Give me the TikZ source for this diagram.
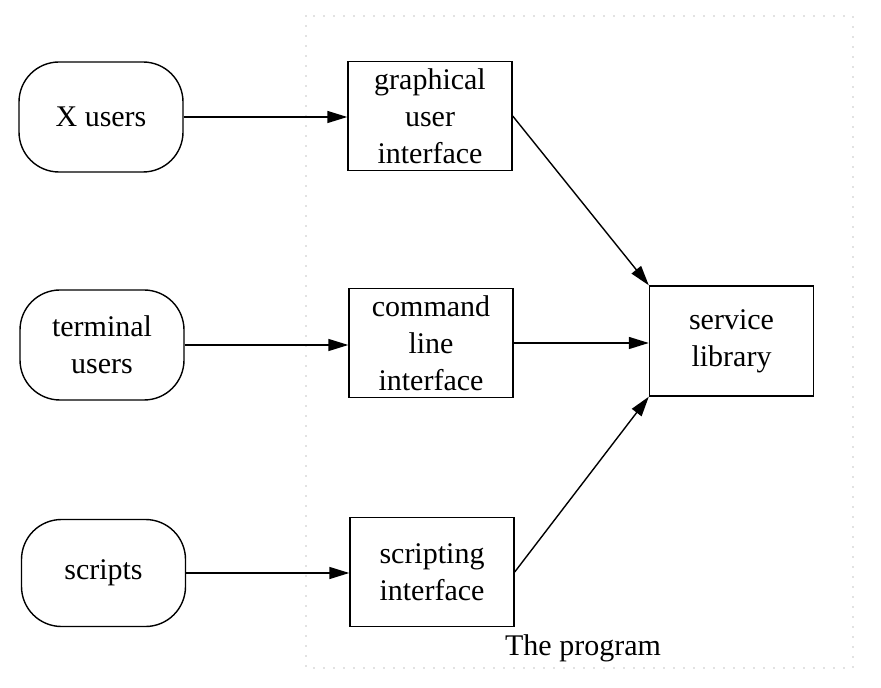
\documentclass[tikz,border=0pt]{standalone}
\usepackage{fontspec}
\setmainfont{Liberation Serif}
\usetikzlibrary{arrows.meta}
\begin{document}
\begin{tikzpicture}[x=0.5pt,y=-0.5pt,
  every node/.style={font=\fontsize{15pt}{18.5pt}\selectfont, align=center, inner sep=0pt},
  actor/.style={draw, line width=0.7pt, rounded corners=20pt, minimum width=82pt, minimum height=55pt},
  comp/.style={draw, line width=0.7pt, minimum width=82pt, minimum height=54.5pt},
  flow/.style={line width=0.7pt, -{Triangle[length=10pt,width=6pt]}},
  frame/.style={gray, line width=0.6pt, line cap=round, dash pattern=on 0pt off 5pt}]
\useasboundingbox (0,0) rectangle (881,688);
\draw[frame] (306,16) rectangle (853,668);
\node[actor] (xu) at (101,117) {X users};
\node[actor] (tu) at (102,345) {terminal\\users};
\node[actor, minimum height=53.5pt] (sc) at (103.5,573) {scripts};
\node[comp] (gui) at (430,116) {graphical\\user\\interface};
\node[comp] (cli) at (431,343) {command\\line\\interface};
\node[comp] (si) at (432,572) {scripting\\interface};
\node[comp, minimum height=55pt] (svc) at (731.5,341) {service\\library};
\node[anchor=base] (lbl) at (583,655) {The program};
\draw[flow] (xu.east) -- (xu.east -| gui.west);
\draw[flow] (tu.east) -- (tu.east -| cli.west);
\draw[flow] (sc.east) -- (sc.east -| si.west);
\draw[flow] (gui.east) -- (svc.north west);
\draw[flow] (cli.east) -- (cli.east -| svc.west);
\draw[flow] (si.east) -- (svc.south west);
\end{tikzpicture}
\end{document}
